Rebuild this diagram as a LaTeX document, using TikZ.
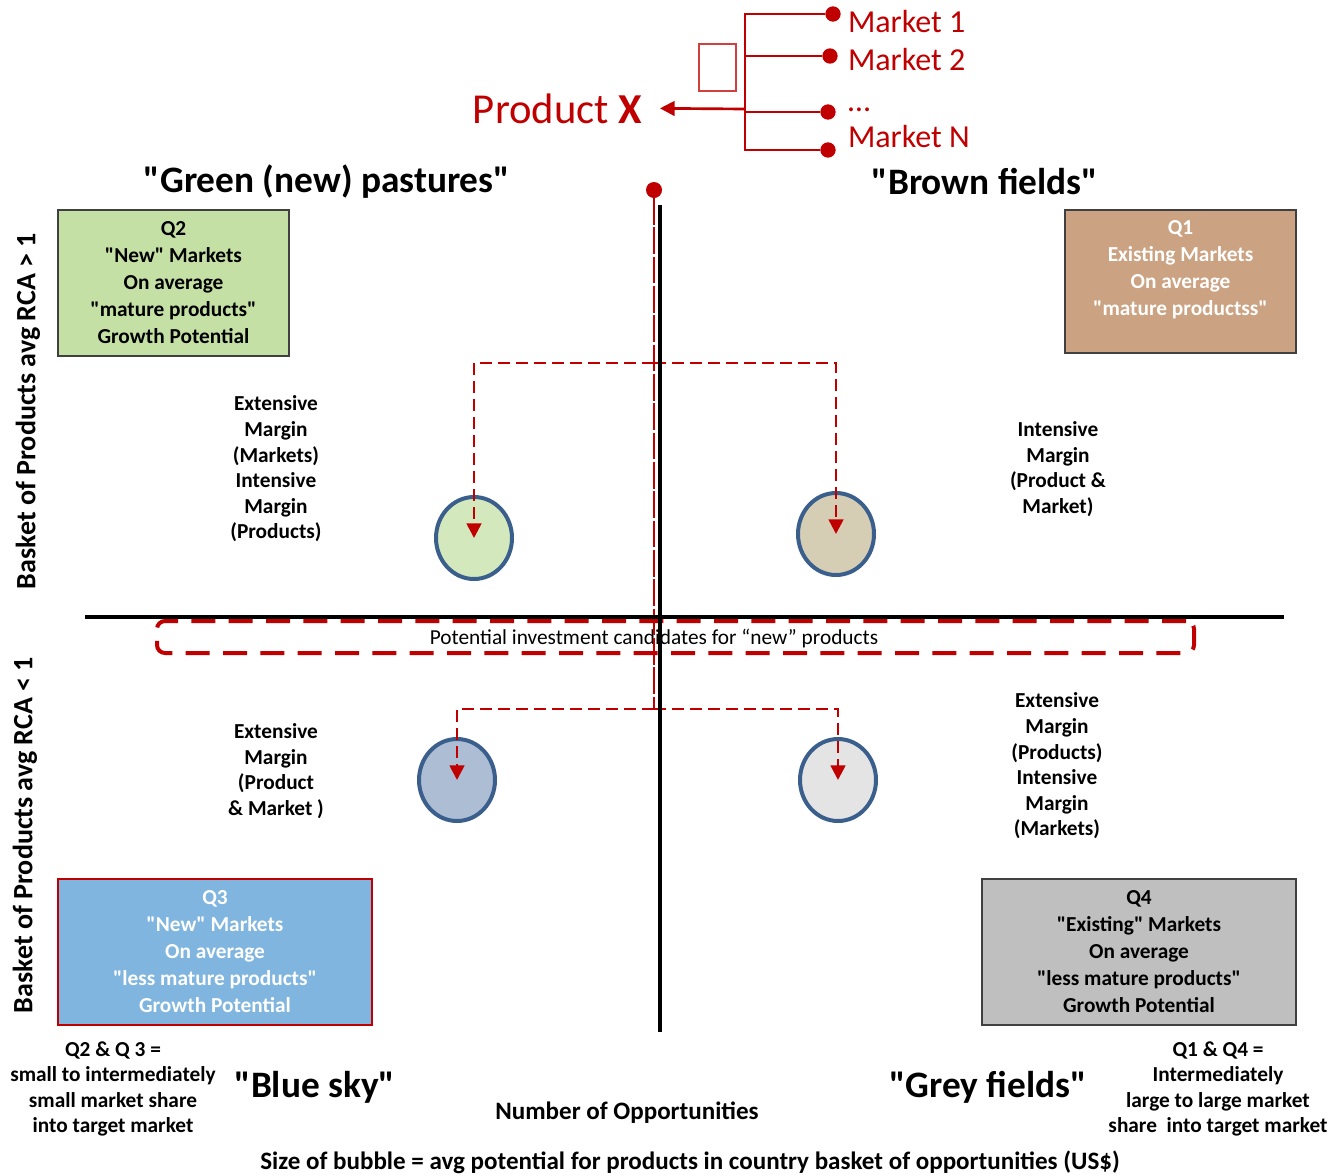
\documentclass[tikz,border=0pt]{standalone}
\usepackage{fontspec}
\setmainfont{Carlito}
\usetikzlibrary{arrows.meta,shapes.geometric}

\definecolor{mkred}{HTML}{C00000}
\definecolor{rim}{HTML}{3A5F8D}
\definecolor{qtwo}{HTML}{C5E0A4}
\definecolor{qone}{HTML}{CBA282}
\definecolor{qthree}{HTML}{7FB5DE}
\definecolor{qfour}{HTML}{BFBFBF}
\definecolor{bgreen}{RGB}{145,197,90}
\definecolor{btan}{RGB}{150,132,70}
\definecolor{bblue}{RGB}{47,90,148}
\definecolor{bgrey}{RGB}{187,187,187}

\newcommand{\quadfont}{\fontsize{16}{20.25}\selectfont\bfseries}
\newcommand{\notefont}{\fontsize{16}{19.2}\selectfont\bfseries}
\newcommand{\headfont}{\fontsize{28}{33}\selectfont\bfseries}
\newcommand{\mktfont}{\fontsize{24}{28}\selectfont}
\newcommand{\dq}[1]{\textquotedbl#1\textquotedbl} % straight quotes

\tikzset{
        x=0.75pt, y=-0.75pt, % one unit is one pixel of the sketch, y runs down
        >={Triangle[width=11pt,length=11pt]}, % heads of the arrows
        every node/.style={inner sep=0pt, outer sep=0pt},
    }
\tikzstyle{quad}=[draw=black!75, line width=1.2pt, align=center, font=\quadfont]
\tikzstyle{note}=[align=center, font=\notefont]
\tikzstyle{head}=[font=\headfont]
\tikzstyle{yaxis}=[rotate=90, font=\fontsize{21}{25}\selectfont\bfseries]
\tikzstyle{bottom}=[font=\fontsize{18.8}{22}\selectfont\bfseries]
\tikzstyle{mkt}=[anchor=base west, text=mkred, font=\mktfont]
\tikzstyle{dot}=[circle, fill=mkred, minimum size=11.5pt]
\tikzstyle{tree}=[draw=mkred, line width=2pt]
\tikzstyle{feed}=[draw=mkred, line width=2pt, dash pattern=on 9pt off 4.5pt]
\tikzstyle{bubble}=[ellipse, minimum width=57pt, minimum height=61.5pt, draw=rim, line width=3pt, fill opacity=0.4]
\tikzstyle{axis}=[draw=black, line width=3pt]

\begin{document}
\begin{tikzpicture}
    \useasboundingbox (0,0) rectangle (1331,1175);

    % product and its markets
    \node[anchor=base east, inner xsep=13.5pt, text=mkred, font=\fontsize{32}{38}\selectfont] (prodX) at (660,123) {Product \textbf{X}};
    \coordinate (hub) at (745,109);
    \node[dot] (m1) at (833,14) {};
    \node[dot] (m2) at (830,56) {};
    \node[dot] (m3) at (828,112) {};
    \node[dot] (m4) at (828,150) {};
    \node[mkt] (l1) at (848,32) {Market 1};
    \node[mkt] (l2) at (848,70) {Market 2};
    \node[mkt] (l3) at (848,111) {…};
    \node[mkt] (l4) at (848,147) {Market N};
    \draw[tree] (hub) |- (m1);
    \draw[tree] (hub) |- (m2);
    \draw[tree] (hub) |- (m3);
    \draw[tree] (hub) |- (m4);
    \draw[tree,->] (hub) -- (prodX.east);
    \node[draw=mkred!75, line width=1pt, minimum width=27.75pt, minimum height=35.25pt] (blank) at (717.5,67.5) {};

    % headings
    \node[head] (green) at (327,182) {\dq{Green (new) pastures}};
    \node[head] (brown) at (985,182) {\dq{Brown fields}};
    \node[head] (bluesky) at (315,1087) {\dq{Blue sky}};
    \node[head] (greyf) at (988,1087) {\dq{Grey fields}};

    % quadrant boxes
    \node[quad, fill=qtwo, minimum width=173pt, minimum height=109.5pt] (q2) at (173.5,283) {Q2\\\dq{New} Markets\\On average\\\dq{mature products}\\Growth Potential};
    \node[quad, fill=qone, text=white, minimum width=173pt, minimum height=107pt] (q1) at (1180.5,281.5) {Q1\\Existing Markets\\On average\\\dq{mature productss}\\\mbox{}};
    \node[quad, fill=qthree, draw=mkred, text=white, minimum width=235.5pt, minimum height=109.5pt] (q3) at (215,952) {Q3\\\dq{New} Markets\\On average\\\dq{less mature products}\\Growth Potential};
    \node[quad, fill=qfour, minimum width=235.5pt, minimum height=109.5pt] (q4) at (1139,952) {Q4\\\dq{Existing} Markets\\On average\\\dq{less mature products}\\Growth Potential};

    % margins
    \node[note] (tlnote) at (276,469) {Extensive\\Margin\\(Markets)\\Intensive\\Margin\\(Products)};
    \node[note] (trnote) at (1058,469) {Intensive\\Margin\\(Product \&\\Market)};
    \node[note] (blnote) at (276,771) {Extensive\\Margin\\(Product\\\& Market )};
    \node[note] (brnote) at (1057,766) {Extensive\\Margin\\(Products)\\Intensive\\Margin\\(Markets)};
    \node[note] (lshare) at (113,1089) {Q2 \& Q 3 =\\small to intermediately\\small market share\\into target market};
    \node[note] (rshare) at (1218,1089) {Q1 \& Q4 =\\Intermediately\\large to large market\\share\ \ into target market};

    % axis titles
    \node[yaxis] (rcahi) at (28,411) {Basket of Products avg RCA > 1};
    \node[yaxis] (rcalo) at (25,835) {Basket of Products avg RCA < 1};
    \node[bottom] (opps) at (627,1113) {Number of Opportunities};
    \node[bottom] (size) at (690,1162) {Size of bubble = avg potential for products in country basket of opportunities (US\$)};

    % candidates band
    \node[draw=mkred, line width=3pt, dash pattern=on 18pt off 10pt, rounded corners=6pt, minimum width=777.75pt, minimum height=24pt] (band) at (675.5,637) {};
    \node[font=\fontsize{16}{19}\selectfont] (bandtxt) at (654,639) {Potential investment candidates for “new” products};

    % red trunk and the bubbles
    \node[dot, minimum size=12pt] (root) at (654,190) {};
    \coordinate (fork1) at (654,363);
    \coordinate (fork2) at (654,709);
    \draw[tree, line width=1.5pt, dash pattern=on 20pt off 2pt] (root) -- (fork2);
    \node[bubble, fill=bgreen] (b2) at (474,538) {};
    \node[bubble, fill=btan] (b1) at (836,534) {};
    \node[bubble, fill=bblue] (b3) at (457,780) {};
    \node[bubble, fill=bgrey] (b4) at (838,780) {};
    \draw[feed,->] (fork1) -| (b2.center);
    \draw[feed,->] (fork1) -| (b1.center);
    \draw[feed,->] (fork2) -| (b3.center);
    \draw[feed,->] (fork2) -| (b4.center);

    % axes
    \coordinate (ytop) at (660,205);
    \coordinate (ybot) at (660,1032);
    \coordinate (xleft) at (85,617);
    \coordinate (xright) at (1284,617);
    \draw[axis] (ytop) -- (ybot);
    \draw[axis] (xleft) -- (xright);
\end{tikzpicture}
\end{document}
